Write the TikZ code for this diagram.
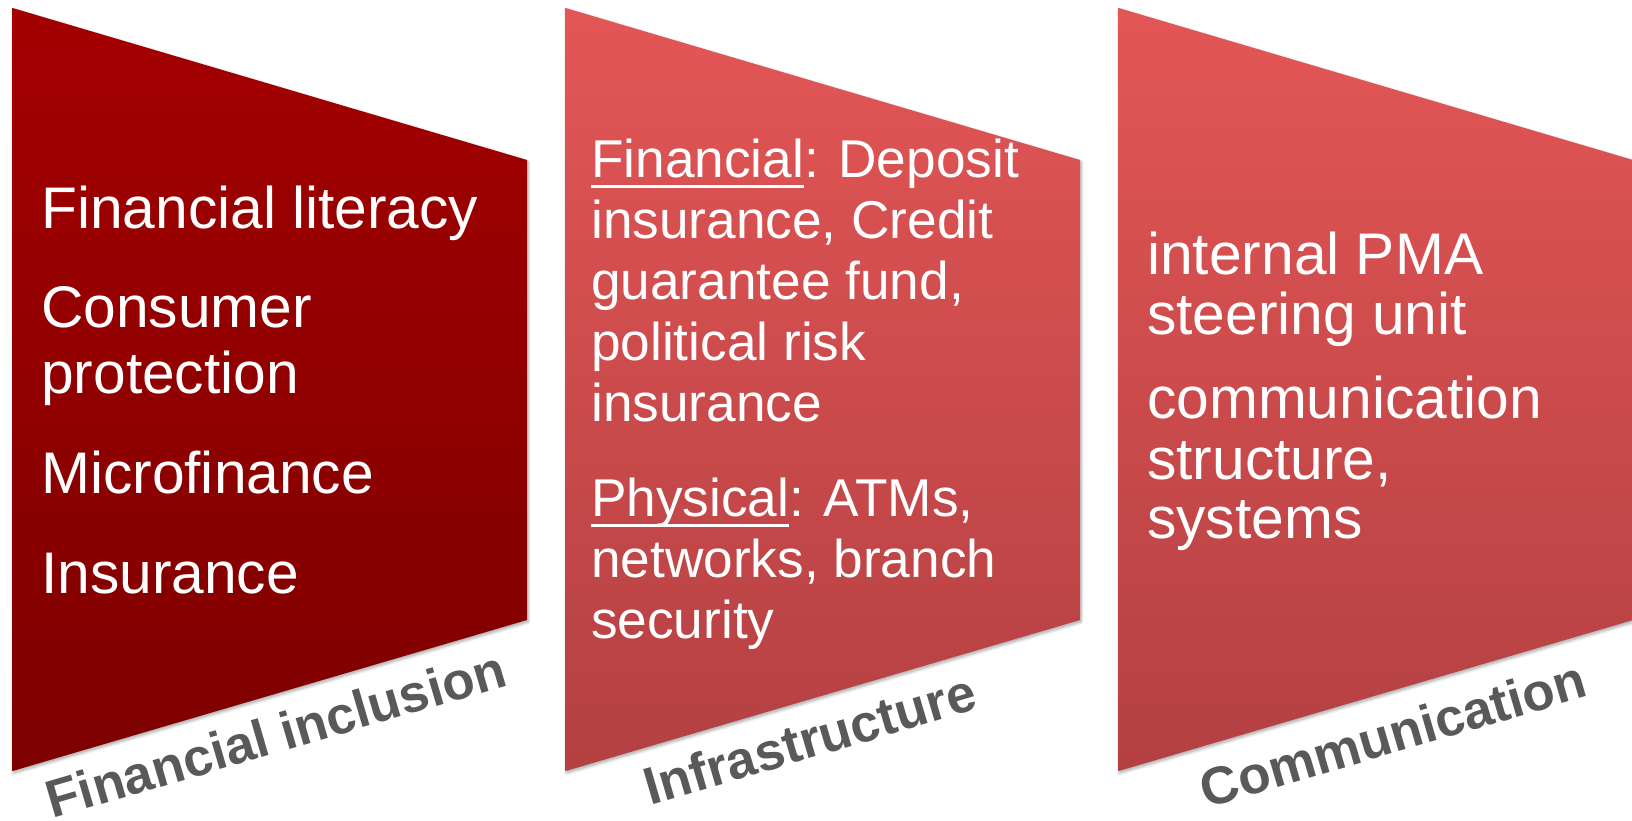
\documentclass[tikz,border=0pt]{standalone}
\usepackage{fontspec}
\setmainfont{Liberation Sans}
\usetikzlibrary{shadows.blur}

\definecolor{inclTop}{RGB}{164,0,0}
\definecolor{inclBottom}{RGB}{125,0,0}
\definecolor{redTop}{RGB}{228,86,86}
\definecolor{redBottom}{RGB}{179,64,66}
\definecolor{labelGray}{RGB}{89,89,89}

% thick underline placed under a word
\newcommand\ulword[1]{\setbox0\hbox{#1}\rlap{\vrule height -7.5pt depth 10.5pt width \wd0}\box0}

\begin{document}
\begin{tikzpicture}[x=1pt,y=1pt]
\tikzset{
  panel/.style={blur shadow={shadow xshift=1pt,shadow yshift=-2pt,shadow blur radius=3pt,shadow blur steps=6,shadow opacity=35}},
  bigitem/.style={anchor=base west,inner sep=0pt,text=white,font=\fontsize{58.7}{66}\selectfont},
  smallitem/.style={anchor=base west,inner sep=0pt,text=white,font=\fontsize{53.2}{61}\selectfont},
  caption/.style={anchor=base,inner sep=0pt,text=labelGray,rotate=16.35,font=\bfseries\fontsize{52.8}{60}\selectfont}
}
\useasboundingbox (0,0) rectangle (1632,821);

% three trapezoid panels
\path[panel,top color=inclTop,bottom color=inclBottom]
  (12.5,813) -- (527,661) -- (527,201) -- (12.5,50) -- cycle;
\path[panel,top color=redTop,bottom color=redBottom]
  (565.5,813) -- (1080,661) -- (1080,201) -- (565.5,50) -- cycle;
\path[panel,top color=redTop,bottom color=redBottom]
  (1118.5,813) -- (1633,661) -- (1633,201) -- (1118.5,50) -- cycle;

% panel 1
\node[bigitem] (a1) at (41,592) {Financial literacy};
\node[bigitem] (a2) at (41,493) {Consumer};
\node[bigitem] (a3) at (41,427) {protection};
\node[bigitem] (a4) at (41,327) {Microfinance};
\node[bigitem] (a5) at (41,227) {Insurance};

% panel 2
\node[smallitem] (b1) at (591,643) {\ulword{Financial}: Deposit};
\node[smallitem] (b2) at (591,582) {insurance, Credit};
\node[smallitem] (b3) at (591,521) {guarantee fund,};
\node[smallitem] (b4) at (591,460) {political risk};
\node[smallitem] (b5) at (591,399) {insurance};
\node[smallitem] (b6) at (591,304) {\ulword{Physical}: ATMs,};
\node[smallitem] (b7) at (591,243) {networks, branch};
\node[smallitem] (b8) at (591,182) {security};

% panel 3
\node[bigitem] (c1) at (1147,546) {internal PMA};
\node[bigitem] (c2) at (1147,486) {steering unit};
\node[bigitem] (c3) at (1147,402) {communication};
\node[bigitem] (c4) at (1147,341) {structure,};
\node[bigitem] (c5) at (1147,282) {systems};

% slanted captions under the panels
\node[caption] (l1) at (281,69) {Financial inclusion};
\node[caption] (l2) at (815,64) {Infrastructure};
\node[caption] (l3) at (1398,69) {Communication};
\end{tikzpicture}
\end{document}
